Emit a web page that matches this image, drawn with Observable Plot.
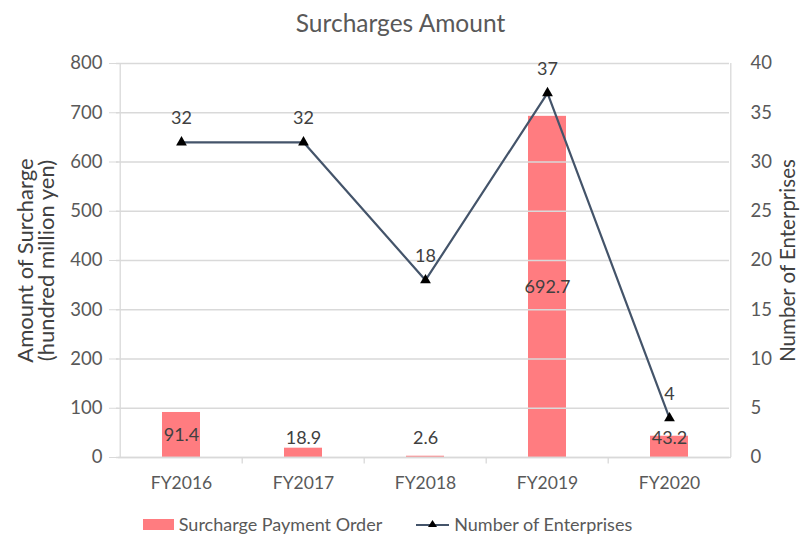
<!DOCTYPE html>
<html><head><meta charset="utf-8">
<script src="https://cdn.jsdelivr.net/npm/d3@7"></script>
<script src="https://cdn.jsdelivr.net/npm/@observablehq/plot@0.6"></script>
<style>
body{margin:0;background:#fff;font-family:Lato,"Open Sans",sans-serif;}
#title{height:45px;line-height:45px;text-align:center;font-size:24.5px;color:#595959;}
#legend{display:flex;justify-content:center;align-items:center;gap:34px;margin-top:8px;padding-right:26px;font-size:18px;color:#595959;}
#legend span{display:flex;align-items:center;gap:5px;}
</style></head>
<body>
<div id="title">Surcharges Amount</div>
<div id="chart"></div>
<div id="legend">
  <span><svg width="31" height="11"><rect width="31" height="11" fill="#FF7C80"/></svg>Surcharge Payment Order</span>
  <span><svg width="33" height="12"><line x1="0" y1="7" x2="33" y2="7" stroke="#44546A" stroke-width="2.2"/><path d="M16.5,2 L21,9 L12,9Z" fill="#000"/></svg>Number of Enterprises</span>
</div>
<script>
const years = ["FY2016","FY2017","FY2018","FY2019","FY2020"];
const surcharge = [91.4, 18.9, 2.6, 692.7, 43.2];
const enterprises = [32, 32, 18, 37, 4];
const leftTicks = [0,100,200,300,400,500,600,700,800];
const rightTicks = [0,5,10,15,20,25,30,35,40];

const ratio = 800 / 40;
const data = years.map((y,i)=>({year:y, amount:surcharge[i], count:enterprises[i]}));

const W = 801, ML = 118, MR = 70;
const step = (W - ML - MR) / years.length;
const axisColor = "#D9D9D9";

const chart = Plot.plot({
  width: W, height: 460,
  marginLeft: ML, marginRight: MR, marginTop: 18, marginBottom: 48,
  style: {fontFamily: "Lato, 'Open Sans', sans-serif", fontSize: "16px", color: "#595959", background: "#fff"},
  x: {domain: years, padding: 0, label: null},
  y: {domain: [0, 800], label: null},
  marks: [
    Plot.barY(data, {x: "year", y: "amount", fill: "#FF7C80", insetLeft: 42, insetRight: 42}),
    Plot.ruleY([0], {stroke: axisColor, strokeWidth: 1.3}),
    Plot.ruleX([years[0]], {y1: 0, y2: 800, dx: -step/2, stroke: axisColor, strokeWidth: 1.3}),
    Plot.ruleX([years[years.length-1]], {y1: 0, y2: 800, dx: step/2, stroke: axisColor, strokeWidth: 1.3}),
    Plot.ruleX(years.slice(1), {y1: 0, y2: -13, dx: -step/2, stroke: axisColor, strokeWidth: 1.3}),
    Plot.axisX({tickSize: 0, tickPadding: 19, label: null, fill: "#595959", fontSize: 17.5}),
    Plot.axisY({ticks: leftTicks, tickSize: 9, tickPadding: 7, stroke: axisColor, label: null, fill: "#595959", fontSize: 18.5}),
    Plot.axisY({anchor: "right", ticks: rightTicks.map(d=>d*ratio), tickFormat: d => d/ratio, tickSize: 0, tickPadding: 19, label: null, fill: "#595959", fontSize: 18.5}),
    Plot.tickY(rightTicks.map(d=>d*ratio), {y: d=>d, frameAnchor: "right", x: null, dx: -2, stroke: axisColor, strokeWidth: 1.3}),
    Plot.text(["Amount of Surcharge"], {frameAnchor: "left", textAnchor: "middle", dx: -93, rotate: -90, fontSize: 22, fill: "#404040", text: d=>d}),
    Plot.text(["(hundred million yen)"], {frameAnchor: "left", textAnchor: "middle", dx: -72, rotate: -90, fontSize: 22, fill: "#404040", text: d=>d}),
    Plot.text(["Number of Enterprises"], {frameAnchor: "right", textAnchor: "middle", dx: 57, rotate: -90, fontSize: 20.5, fill: "#404040", text: d=>d}),
    Plot.text(data, {x: "year", y: d => Math.max(d.amount/2, 40), text: d => d.amount.toFixed(1), fill: "#404040", fontSize: 18}),
    Plot.line(data, {x: "year", y: d => d.count*ratio, stroke: "#44546A", strokeWidth: 2.2}),
    Plot.dot(data, {x: "year", y: d => d.count*ratio, symbol: "triangle", r: 4, fill: "#000", stroke: null}),
    Plot.text(data, {x: "year", y: d => d.count*ratio, text: d => String(d.count), dy: -24, fill: "#404040", fontSize: 18})
  ]
});
document.getElementById("chart").append(chart);
</script>
</body></html>
